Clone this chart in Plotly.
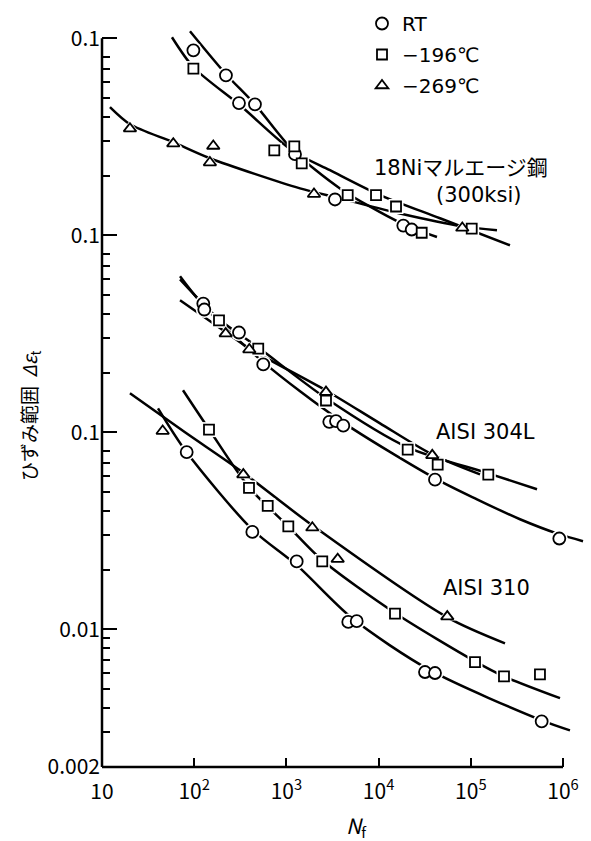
import plotly.graph_objects as go

# ---------------- data (N_f, strain range) ----------------
# Each material panel is drawn on the same log axis, shifted by whole decades.
panel_shift = {"ni": 100.0, "s304": 10.0, "s310": 1.0}

# 18Ni maraging steel (300 ksi)
ni_rt_N = [98, 221, 306, 456, 1240, 3365, 18540, 22870]
ni_rt_e = [0.0869, 0.0649, 0.0469, 0.0462, 0.0258, 0.0152, 0.0112, 0.0107]
ni_196_N = [98, 739, 1218, 1466, 4622, 9376, 15450, 29340, 102300]
ni_196_e = [0.0702, 0.0270, 0.0283, 0.0232, 0.0160, 0.0160, 0.0140, 0.0103, 0.0108]
ni_269_N = [20.1, 59.3, 161, 148, 1992, 80840]
ni_269_e = [0.0348, 0.0292, 0.0284, 0.0234, 0.0162, 0.0109]

ni_rt_fitN = [90, 221, 456, 1179, 3811, 17070, 42970]
ni_rt_fite = [0.1085, 0.0657, 0.0462, 0.0270, 0.0173, 0.0116, 0.0098]
ni_196_fitN = [57.4, 98, 314, 1179, 2971, 10360, 46340, 266100]
ni_196_fite = [0.1012, 0.0713, 0.0457, 0.0267, 0.0214, 0.0160, 0.0122, 0.0089]
ni_269_fitN = [12.2, 20.1, 59, 148, 1404, 3811, 17070, 80840, 192300]
ni_269_fite = [0.0447, 0.0366, 0.0297, 0.0246, 0.0173, 0.0154, 0.0129, 0.0111, 0.0106]

# AISI 304L
s304_rt_N = [125.5, 128.7, 306, 561, 2918, 3451, 4140, 40900, 912000]
s304_rt_e = [0.0450, 0.0420, 0.0321, 0.0221, 0.0113, 0.0114, 0.0108, 0.00575, 0.00289]
s304_196_N = [185.8, 495, 2688, 20680, 43740, 154800]
s304_196_e = [0.0370, 0.0266, 0.0145, 0.00817, 0.00686, 0.0061]
s304_269_N = [219.6, 396, 2688, 38200]
s304_269_e = [0.0317, 0.0263, 0.0160, 0.00764]

s304_rt_fitN = [70.2, 128, 561, 3811, 40900, 116700, 341700, 904800, 1648000]
s304_rt_fite = [0.0619, 0.0436, 0.0227, 0.0115, 0.00584, 0.00457, 0.00362, 0.00304, 0.00280]
s304_196_fitN = [70.2, 185.8, 492, 2688, 20680, 154800, 522400]
s304_196_fite = [0.0598, 0.0375, 0.0270, 0.0149, 0.00839, 0.00619, 0.00514]
s304_269_fitN = [70.2, 221, 393, 2688, 10360, 37930, 125900]
s304_269_fite = [0.0468, 0.0322, 0.0267, 0.0163, 0.0111, 0.00773, 0.00612]

# AISI 310
s310_rt_N = [82.9, 427, 1293, 4690, 5789, 31860, 40900, 587000]
s310_rt_e = [0.0794, 0.0312, 0.0221, 0.0109, 0.0110, 0.00607, 0.0060, 0.00341]
s310_196_N = [144.7, 393, 627, 1049, 2449, 15060, 111100, 229100, 562500]
s310_196_e = [0.1032, 0.0522, 0.0423, 0.0333, 0.0221, 0.0120, 0.00682, 0.00577, 0.00591]
s310_269_N = [45.5, 341, 1910, 3600, 55590]
s310_269_e = [0.1015, 0.0610, 0.0328, 0.0227, 0.0116]

s310_rt_fitN = [40.5, 82.9, 424, 1303, 5143, 36070, 587000, 1190000]
s310_rt_fite = [0.1324, 0.0791, 0.0322, 0.0211, 0.0114, 0.0062, 0.00345, 0.00307]
s310_196_fitN = [75.6, 144.7, 393, 1049, 2449, 15060, 111100, 229100, 928000]
s310_196_fite = [0.1634, 0.1036, 0.0526, 0.0333, 0.0224, 0.0121, 0.00688, 0.00577, 0.00447]
s310_269_fitN = [20.1, 79.5, 314, 1910, 55590, 234900]
s310_269_fite = [0.1578, 0.1000, 0.0641, 0.0337, 0.0115, 0.00849]

# axis ticks
x_tickvals = [10, 1e2, 1e3, 1e4, 1e5, 1e6]
x_ticktext = ["10", "10<sup>2</sup>", "10<sup>3</sup>", "10<sup>4</sup>", "10<sup>5</sup>", "10<sup>6</sup>"]
y_tickvals = [10, 1, 0.1, 0.01, 0.002]
y_ticktext = ["0.1", "0.1", "0.1", "0.01", "0.002"]
y_minor = [8, 7, 6, 5, 4, 3, 2,
           0.8, 0.7, 0.6, 0.5, 0.4, 0.3, 0.2,
           0.08, 0.07, 0.06, 0.05, 0.04, 0.03, 0.02,
           0.009, 0.008, 0.007, 0.006, 0.005, 0.004, 0.003]

legend_names = ["RT", "−196℃", "−269℃"]
symbols = ["circle", "square", "triangle-up"]
msizes = [12, 10, 11]

# ---------------- figure ----------------
FONT = "Noto Sans CJK JP"
LFONT = "DejaVu Sans, Noto Sans CJK JP"
W, H = 591, 841
L, R, T, B = 102, 2, 24, 74
PW, PH = W - L - R, H - T - B
DEC_X, DEC_Y = 92.2, 197.0
x_range = [1, 1 + PW / DEC_X]
y_lo = -2.69897
y_range = [y_lo, y_lo + PH / DEC_Y]

def px(x):
    return (x - L) / PW

def py(y):
    return (H - B - y) / PH

fig = go.Figure()

panels = [
    ("ni", [(ni_rt_N, ni_rt_e, ni_rt_fitN, ni_rt_fite),
            (ni_196_N, ni_196_e, ni_196_fitN, ni_196_fite),
            (ni_269_N, ni_269_e, ni_269_fitN, ni_269_fite)]),
    ("s304", [(s304_rt_N, s304_rt_e, s304_rt_fitN, s304_rt_fite),
              (s304_196_N, s304_196_e, s304_196_fitN, s304_196_fite),
              (s304_269_N, s304_269_e, s304_269_fitN, s304_269_fite)]),
    ("s310", [(s310_rt_N, s310_rt_e, s310_rt_fitN, s310_rt_fite),
              (s310_196_N, s310_196_e, s310_196_fitN, s310_196_fite),
              (s310_269_N, s310_269_e, s310_269_fitN, s310_269_fite)]),
]

# fitted curves
for pi, (key, series) in enumerate(panels):
    k = panel_shift[key]
    for si, (N, e, fN, fe) in enumerate(series):
        fig.add_trace(go.Scatter(
            x=fN, y=[v * k for v in fe], mode="lines",
            line=dict(color="black", width=2.5, shape="spline", smoothing=0.8),
            showlegend=False, hoverinfo="skip"))
# white halo so the curves break around the symbols, as in the print
for pi, (key, series) in enumerate(panels):
    k = panel_shift[key]
    for si, (N, e, fN, fe) in enumerate(series):
        fig.add_trace(go.Scatter(
            x=N, y=[v * k for v in e], mode="markers",
            marker=dict(symbol=symbols[si], size=msizes[si] + 5, color="white",
                        line=dict(width=0)),
            showlegend=False, hoverinfo="skip"))
# data symbols
for pi, (key, series) in enumerate(panels):
    k = panel_shift[key]
    for si, (N, e, fN, fe) in enumerate(series):
        fig.add_trace(go.Scatter(
            x=N, y=[v * k for v in e], mode="markers",
            marker=dict(symbol=symbols[si], size=msizes[si], color="white",
                        line=dict(color="black", width=1.8)),
            name=legend_names[si], legendgroup=legend_names[si],
            showlegend=(pi == 0)))

fig.update_layout(
    width=W, height=H,
    margin=dict(l=L, r=R, t=T, b=B),
    paper_bgcolor="white", plot_bgcolor="white",
    font=dict(family=FONT, size=20, color="black"),
    showlegend=True,
    legend=dict(x=px(362), y=py(4), xanchor="left", yanchor="top",
                bgcolor="rgba(0,0,0,0)", font=dict(size=20, family=LFONT),
                tracegroupgap=2, itemwidth=30),
    xaxis=dict(type="log", range=x_range, showgrid=False, zeroline=False,
               showline=False, tickmode="array", tickvals=x_tickvals,
               ticktext=x_ticktext, ticks="inside", ticklen=9, tickwidth=2,
               tickcolor="black", ticklabelstandoff=10,
               tickfont=dict(size=21, family=FONT)),
    yaxis=dict(type="log", range=y_range, showgrid=False, zeroline=False,
               showline=False, tickmode="array", tickvals=y_tickvals,
               ticktext=y_ticktext, ticks="inside", ticklen=15, tickwidth=2,
               tickcolor="black", ticklabelstandoff=1,
               tickfont=dict(size=21, family=FONT),
               minor=dict(tickmode="array", tickvals=y_minor, ticks="inside",
                          ticklen=8, tickwidth=2, tickcolor="black",
                          showgrid=False)),
)

# axis lines (x axis ends at 10^6, y axis ends at the top tick)
fig.add_shape(type="line", xref="paper", yref="paper", x0=0, x1=px(L + 5 * DEC_X),
              y0=0, y1=0, line=dict(color="black", width=2.5))
fig.add_shape(type="line", xref="paper", yref="paper", x0=0, x1=0,
              y0=0, y1=py(H - B - (1 - y_lo) * DEC_Y), line=dict(color="black", width=2.5))

def label(text, x, y, size=21, xanchor="left", angle=0, family=LFONT):
    fig.add_annotation(text=text, xref="paper", yref="paper", x=px(x), y=py(y),
                       xanchor=xanchor, yanchor="middle", showarrow=False,
                       textangle=angle, font=dict(size=size, family=family, color="black"))

label("18Niマルエージ鋼", 372, 168)
label("(300ksi)", 434, 195)
label("AISI 304L", 434, 432)
label("AISI 310", 441, 588)
label("ひずみ範囲  <i>Δε</i><sub>t</sub>", 30, 416, size=19, xanchor="center", angle=-90,
      family=FONT)
label("<i>N</i><sub>f</sub>", 356, 826, size=21, xanchor="center", family=FONT)

fig.write_html("out.html")
